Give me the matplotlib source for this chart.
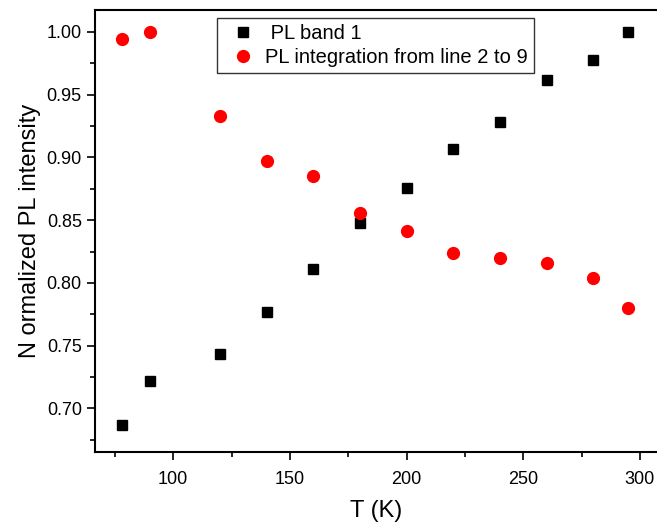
import matplotlib.pyplot as plt

plt.rcParams['font.family'] = ['Liberation Sans', 'DejaVu Sans']

# temperatures (K)
T = [78, 90, 120, 140, 160, 180, 200, 220, 240, 260, 280, 295]
# normalized intensities
band1 = [0.687, 0.722, 0.743, 0.777, 0.811, 0.848, 0.876, 0.907, 0.928, 0.962, 0.978, 1.000]
integ = [0.994, 1.000, 0.933, 0.897, 0.885, 0.856, 0.841, 0.824, 0.820, 0.816, 0.804, 0.780]

xticks = [100, 150, 200, 250, 300]
yticks = [0.70, 0.75, 0.80, 0.85, 0.90, 0.95, 1.00]

fig = plt.figure(figsize=(6.57, 5.26), dpi=100)
ax = fig.add_axes([95/657, 1 - 452/526, (657 - 95)/657, (452 - 10)/526])

ax.plot(T, band1, 's', color='black', markersize=6.5, label=' PL band 1')
ax.plot(T, integ, 'o', color='red', markersize=8.5, label='PL integration from line 2 to 9')

ax.set_xlim(66.5, 307.3)
ax.set_ylim(0.6652, 1.0175)
ax.set_xticks(xticks)
ax.set_yticks(yticks)
ax.set_yticklabels(['%.2f' % v for v in yticks])
ax.set_xticks([75, 125, 175, 225, 275], minor=True)
ax.set_yticks([0.675, 0.725, 0.775, 0.825, 0.875, 0.925, 0.975], minor=True)
ax.tick_params(which='major', direction='out', length=6, width=1.2, labelsize=13, top=False, right=False)
ax.tick_params(axis='x', which='major', pad=8)
ax.tick_params(which='minor', direction='out', length=3.5, width=1.2, top=False, right=False)

for s in ['left', 'bottom', 'top']:
    ax.spines[s].set_linewidth(1.5)
ax.spines['right'].set_visible(False)

ax.set_xlabel('T (K)', fontsize=17, labelpad=8)
ax.set_ylabel('N ormalized PL intensity', fontsize=17)

leg = ax.legend(loc='upper left', bbox_to_anchor=(217/657, 1 - 18/526), bbox_transform=fig.transFigure,
                fontsize=14.5, frameon=True, fancybox=False, edgecolor='black', handletextpad=0.1,
                borderpad=0.3, labelspacing=0.25, handlelength=2.0, borderaxespad=0)
leg.get_frame().set_linewidth(1.0)

plt.savefig('out.png', dpi=100)
